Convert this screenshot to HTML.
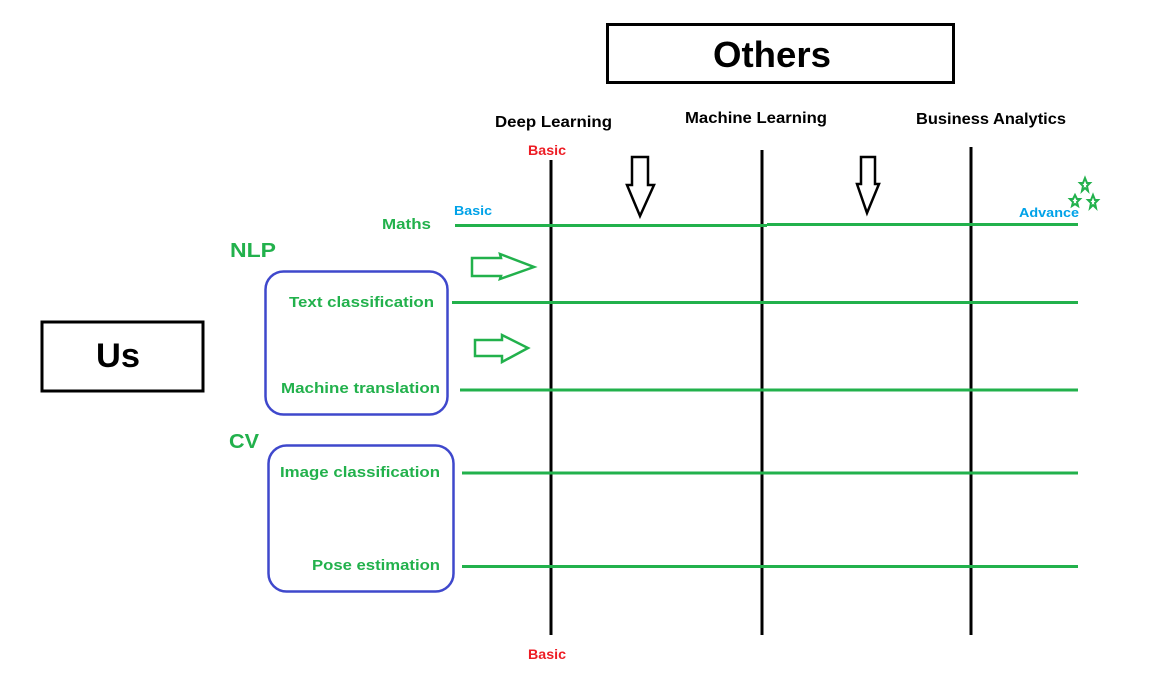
<!DOCTYPE html>
<html><head><meta charset="utf-8"><style>
html,body{margin:0;padding:0;background:#fff;width:1174px;height:676px;overflow:hidden}
svg{display:block}
text{font-family:"Liberation Sans",sans-serif;font-weight:bold}
</style></head><body>
<svg width="1174" height="676" viewBox="0 0 1174 676" xmlns="http://www.w3.org/2000/svg">
<!-- boxes -->
<rect x="607.5" y="24.5" width="346" height="58" fill="none" stroke="#000" stroke-width="3"/>
<text x="772" y="67" font-size="36" text-anchor="middle" textLength="118" lengthAdjust="spacingAndGlyphs">Others</text>
<rect x="42" y="322" width="161" height="69" fill="none" stroke="#000" stroke-width="3"/>
<text x="118" y="367" font-size="34" text-anchor="middle" textLength="44" lengthAdjust="spacingAndGlyphs">Us</text>

<!-- column headers -->
<text x="495" y="127" font-size="16" textLength="117" lengthAdjust="spacingAndGlyphs">Deep Learning</text>
<text x="685" y="123" font-size="16" textLength="142" lengthAdjust="spacingAndGlyphs">Machine Learning</text>
<text x="916" y="124" font-size="16" textLength="150" lengthAdjust="spacingAndGlyphs">Business Analytics</text>
<text x="528" y="155" font-size="14" fill="#ed1c24" textLength="38" lengthAdjust="spacingAndGlyphs">Basic</text>
<text x="528" y="659" font-size="14" fill="#ed1c24" textLength="38" lengthAdjust="spacingAndGlyphs">Basic</text>

<!-- vertical lines -->
<line x1="551" y1="160" x2="551" y2="635" stroke="#000" stroke-width="3"/>
<line x1="762" y1="150" x2="762" y2="635" stroke="#000" stroke-width="3"/>
<line x1="971" y1="147" x2="971" y2="635" stroke="#000" stroke-width="3"/>

<!-- green horizontal lines -->
<g stroke="#22b14c" stroke-width="3">
<line x1="455" y1="225.5" x2="767" y2="225.5"/>
<line x1="767" y1="224.5" x2="1078" y2="224.5"/>
<line x1="452" y1="302.5" x2="1078" y2="302.5"/>
<line x1="460" y1="390" x2="1078" y2="390"/>
<line x1="462" y1="473" x2="1078" y2="473"/>
<line x1="462" y1="566.5" x2="1078" y2="566.5"/>
</g>

<!-- green labels -->
<g fill="#22b14c">
<text x="382" y="229" font-size="15" textLength="49" lengthAdjust="spacingAndGlyphs">Maths</text>
<text x="230" y="257" font-size="20" textLength="46" lengthAdjust="spacingAndGlyphs">NLP</text>
<text x="229" y="448" font-size="20" textLength="30" lengthAdjust="spacingAndGlyphs">CV</text>
<text x="289" y="307" font-size="15" textLength="145" lengthAdjust="spacingAndGlyphs">Text classification</text>
<text x="281" y="393" font-size="15" textLength="159" lengthAdjust="spacingAndGlyphs">Machine translation</text>
<text x="280" y="477" font-size="15" textLength="160" lengthAdjust="spacingAndGlyphs">Image classification</text>
<text x="312" y="570" font-size="15" textLength="128" lengthAdjust="spacingAndGlyphs">Pose estimation</text>
</g>
<text x="454" y="215" font-size="13" fill="#00a2e8" textLength="38" lengthAdjust="spacingAndGlyphs">Basic</text>
<text x="1019" y="217" font-size="13" fill="#00a2e8" textLength="60" lengthAdjust="spacingAndGlyphs">Advance</text>

<!-- stars -->
<g fill="none" stroke="#22b14c" stroke-width="2">
<polygon points="1085,178 1087,183 1090,183 1087,186 1088,191 1085,188 1082,191 1083,186 1080,183 1083,183"/>
<polygon points="1075,195 1077,199 1080,199 1077,202 1078,206 1075,204 1072,206 1073,202 1070,199 1073,199"/>
<polygon points="1093,195 1095,200 1098,200 1095,203 1096,208 1093,205 1090,208 1091,203 1088,200 1091,200"/>
</g>

<!-- blue rounded boxes -->
<rect x="265.5" y="271.5" width="182" height="143" rx="18" fill="none" stroke="#3f48cc" stroke-width="2.5"/>
<rect x="268.5" y="445.5" width="185" height="146" rx="18" fill="none" stroke="#3f48cc" stroke-width="2.5"/>

<!-- down arrows -->
<polygon points="632,157 648,157 648,185 654,185 640,216 627,185 632,185" fill="none" stroke="#000" stroke-width="2.5"/>
<polygon points="861,157 875,157 875,184 879,184 867,213 857,184 861,184" fill="none" stroke="#000" stroke-width="2.5"/>

<!-- right arrows -->
<polygon points="472,258 501,258 500,254 534,267 500,279 501,276 472,276" fill="none" stroke="#22b14c" stroke-width="2.5"/>
<polygon points="475,340 502,340 502,335 528,348 502,362 502,356 475,356" fill="none" stroke="#22b14c" stroke-width="2.5"/>
</svg>
</body></html>
